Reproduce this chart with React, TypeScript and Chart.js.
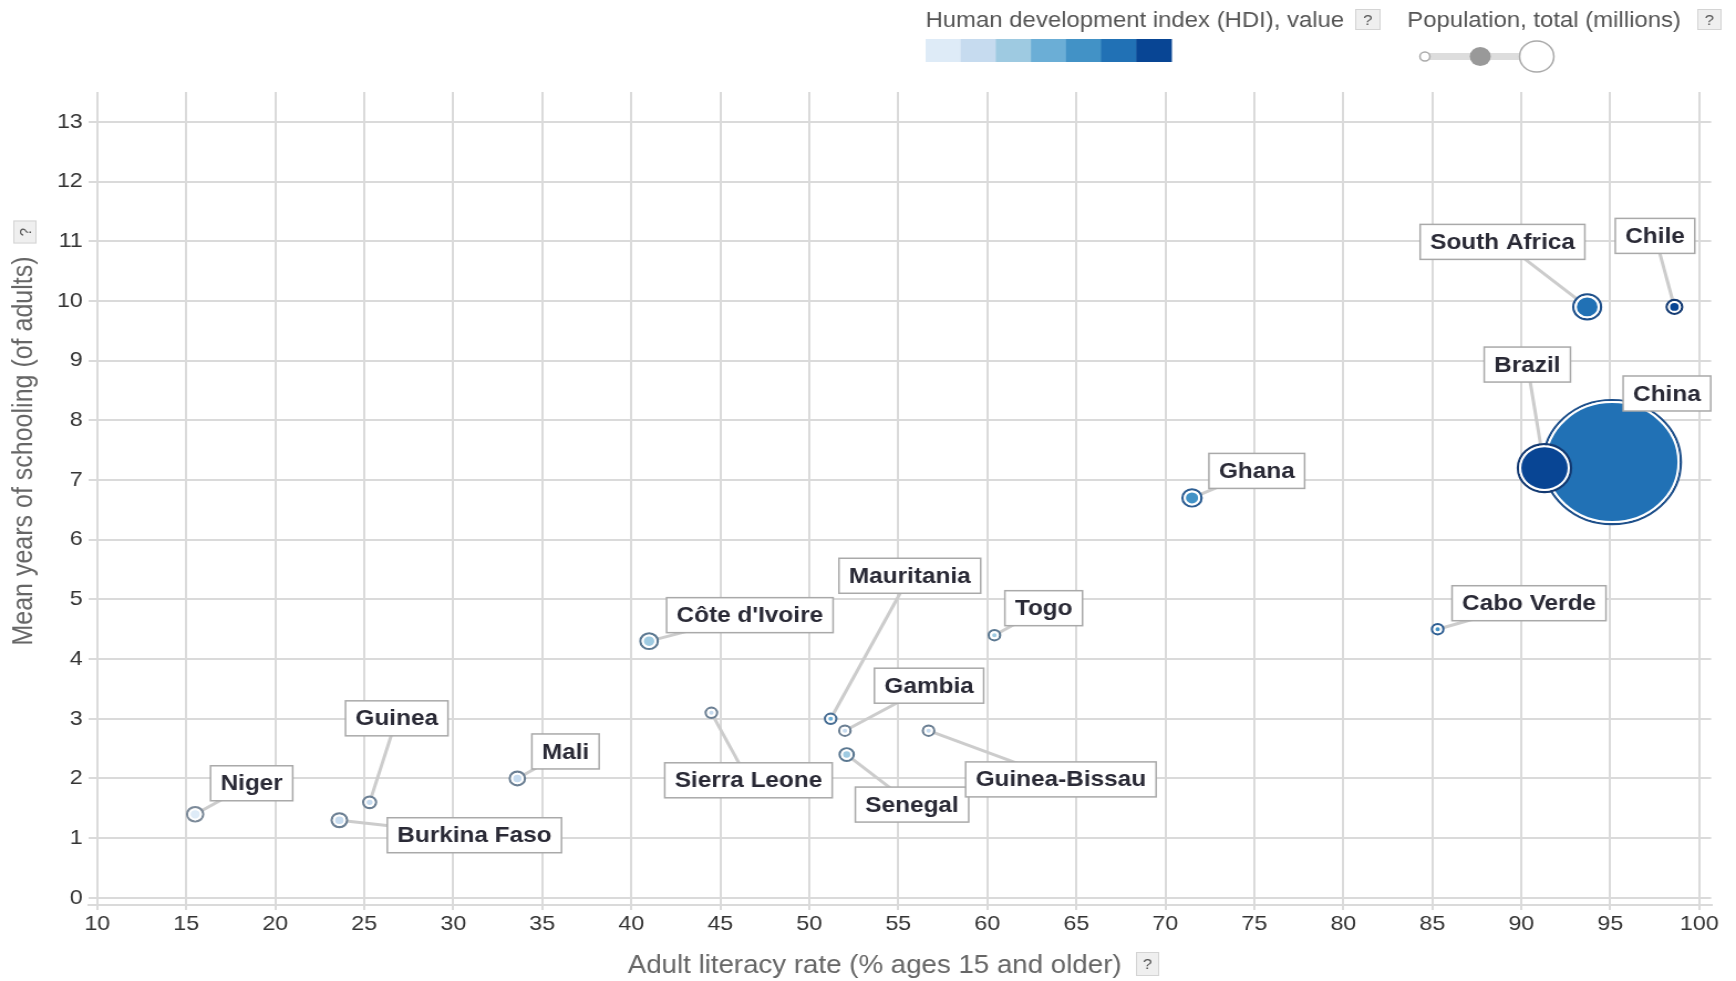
import React, { useEffect, useRef } from 'react';
import { Chart, registerables, BubbleController, PointElement } from 'chart.js';

// ---------- data ----------
const countries = [
  'Niger', 'Burkina Faso', 'Guinea', 'Mali', "Côte d'Ivoire", 'Sierra Leone', 'Mauritania',
  'Gambia', 'Senegal', 'Guinea-Bissau', 'Togo', 'Ghana', 'Cabo Verde', 'South Africa', 'Chile',
  'China', 'Brazil',
];
const literacyRate = [15.5, 23.6, 25.3, 33.6, 41.0, 44.5, 51.2, 52.0, 52.1, 56.7, 60.4, 71.5, 85.3, 93.7, 98.6, 95.1, 91.3];
const meanSchooling = [1.4, 1.3, 1.6, 2.0, 4.3, 3.1, 3.0, 2.8, 2.4, 2.8, 4.4, 6.7, 4.5, 9.9, 9.9, 7.3, 7.2];
const hdiValue = [0.348, 0.402, 0.411, 0.419, 0.462, 0.413, 0.506, 0.441, 0.466, 0.420, 0.484, 0.579, 0.646, 0.666, 0.832, 0.727, 0.755];
const populationMillions = [19.1, 17.6, 12.3, 17.1, 22.2, 6.3, 4.0, 1.9, 14.7, 1.8, 7.1, 26.8, 0.5, 56.0, 17.8, 1369.4, 206.1];

const xTickValues = [10, 15, 20, 25, 30, 35, 40, 45, 50, 55, 60, 65, 70, 75, 80, 85, 90, 95, 100];
const yTickValues = [0, 1, 2, 3, 4, 5, 6, 7, 8, 9, 10, 11, 12, 13];

const xTitle = 'Adult literacy rate (% ages 15 and older)';
const yTitle = 'Mean years of schooling (of adults)';
const hdiLegendTitle = 'Human development index (HDI), value';
const popLegendTitle = 'Population, total (millions)';

// ---------- styles / layout ----------
const hdiThresholds = [0.40, 0.45, 0.50, 0.55, 0.65, 0.75];
const hdiPalette = ['#deebf7', '#c6dbef', '#9ecae1', '#6baed6', '#4292c6', '#2171b5', '#084594'];
const ringPalette = ['#7c8a99', '#6b7f93', '#5b7891', '#476d93', '#2c5d92', '#1d4f8a', '#133a72'];
// label box centre offsets from the bubble centre (px)
const labelOffsets: [number, number][] = [
  [51, -31], [122, 15], [24.5, -84], [43.5, -27], [91, -26], [33.5, 67.5], [71.5, -143],
  [76, -45], [59, 50], [119.5, 48.7], [44.5, -27], [58.5, -27], [82.5, -26], [-76.5, -65],
  [-17.5, -71], [49.5, -68.6], [-15.5, -103.5],
];

const FONT = '"Liberation Sans", Arial, Helvetica, sans-serif';
const GRID = '#dadada';

const hdiBin = (v: number) => {
  let b = 0;
  hdiThresholds.forEach((t) => { if (v >= t) b++; });
  return b;
};
const outerRadius = (p: number) => Math.max(6.2, 1.68 * Math.sqrt(p) + 1);

// ---------- custom element: bubble with white ring and dark outer ring ----------
class RingPoint extends PointElement {
  static id = 'ringPoint';
  static defaults = { ...(PointElement as any).defaults, outerColor: 'rgba(0,0,0,0)', outerWidth: 0 };
  static defaultRoutes = (PointElement as any).defaultRoutes;
  draw(ctx: CanvasRenderingContext2D, area: any) {
    const o: any = (this as any).options;
    if (!(this as any).skip && o.radius > 0 && o.outerWidth > 0) {
      ctx.save();
      ctx.beginPath();
      ctx.arc((this as any).x, (this as any).y, o.radius + o.borderWidth / 2 + o.outerWidth / 2, 0, Math.PI * 2);
      ctx.lineWidth = o.outerWidth;
      ctx.strokeStyle = o.outerColor;
      ctx.stroke();
      ctx.restore();
    }
    super.draw(ctx, area);
  }
}

class RingBubbleController extends BubbleController {
  static id = 'ringBubble';
  static defaults = { ...(BubbleController as any).defaults, dataElementType: 'ringPoint' };
  static overrides = (BubbleController as any).overrides;
}

Chart.register(...registerables, RingPoint as any, RingBubbleController as any);

function qBox(ctx: CanvasRenderingContext2D, cx: number, cy: number, w: number, h: number, rot = 0) {
  ctx.save();
  ctx.translate(cx, cy);
  ctx.rotate(rot);
  ctx.fillStyle = '#efefef';
  ctx.strokeStyle = '#d4d4d4';
  ctx.lineWidth = 1;
  ctx.fillRect(-w / 2, -h / 2, w, h);
  ctx.strokeRect(-w / 2 + 0.5, -h / 2 + 0.5, w - 1, h - 1);
  ctx.fillStyle = '#555';
  ctx.font = `15px ${FONT}`;
  ctx.textAlign = 'center';
  ctx.textBaseline = 'middle';
  ctx.fillText('?', 0, 1);
  ctx.restore();
}

const decorPlugin = {
  id: 'decor',
  beforeDatasetsDraw(chart: any) {
    const ctx: CanvasRenderingContext2D = chart.ctx;
    const xs = chart.scales.x, ys = chart.scales.y;
    ctx.save();
    ctx.strokeStyle = '#cccccc';
    ctx.lineWidth = 3;
    countries.forEach((_, i) => {
      const px = xs.getPixelForValue(literacyRate[i]);
      const py = ys.getPixelForValue(meanSchooling[i]);
      const [dx, dy] = labelOffsets[i];
      ctx.beginPath();
      ctx.moveTo(px, py);
      ctx.lineTo(px + dx, py + dy);
      ctx.stroke();
    });
    ctx.restore();
  },
  afterDatasetsDraw(chart: any) {
    const ctx: CanvasRenderingContext2D = chart.ctx;
    const xs = chart.scales.x, ys = chart.scales.y;
    ctx.save();
    ctx.font = `bold 22px ${FONT}`;
    ctx.textAlign = 'center';
    ctx.textBaseline = 'middle';
    countries.forEach((name, i) => {
      const px = xs.getPixelForValue(literacyRate[i]);
      const py = ys.getPixelForValue(meanSchooling[i]);
      const [dx, dy] = labelOffsets[i];
      const cx = px + dx, cy = py + dy;
      const w = ctx.measureText(name).width + 18;
      const h = 35;
      ctx.fillStyle = '#ffffff';
      ctx.fillRect(cx - w / 2, cy - h / 2, w, h);
      ctx.strokeStyle = '#a9a9a9';
      ctx.lineWidth = 1.5;
      ctx.strokeRect(cx - w / 2, cy - h / 2, w, h);
      ctx.fillStyle = '#2a2a36';
      ctx.fillText(name, cx, cy + 1);
    });
    ctx.restore();
  },
  afterDraw(chart: any) {
    const ctx: CanvasRenderingContext2D = chart.ctx;
    ctx.save();
    // axis titles
    ctx.fillStyle = '#666';
    ctx.font = `25px ${FONT}`;
    ctx.textAlign = 'center';
    ctx.textBaseline = 'middle';
    ctx.fillText(xTitle, 790, 966);
    qBox(ctx, 1036.5, 964, 21, 24);
    ctx.save();
    ctx.translate(22, 451);
    ctx.rotate(-Math.PI / 2);
    ctx.fillText(yTitle, 0, 0);
    ctx.restore();
    qBox(ctx, 22.5, 232, 23, 21, -Math.PI / 2);

    // HDI legend
    ctx.fillStyle = '#555';
    ctx.font = `21.6px ${FONT}`;
    ctx.textAlign = 'left';
    ctx.fillText(hdiLegendTitle, 836, 21);
    qBox(ctx, 1235.5, 19.5, 23, 21);
    const cw = 222 / hdiPalette.length;
    hdiPalette.forEach((c, i) => {
      ctx.fillStyle = c;
      ctx.fillRect(836 + i * cw, 39, cw + 0.5, 23);
    });

    // population legend
    ctx.fillStyle = '#555';
    ctx.fillText(popLegendTitle, 1271, 21);
    qBox(ctx, 1544, 19.5, 22, 21);
    const sy = 56.5;
    ctx.fillStyle = '#dddddd';
    ctx.fillRect(1287, sy - 3.5, 101, 7);
    ctx.lineWidth = 1.5;
    ctx.strokeStyle = '#aaaaaa';
    ctx.fillStyle = '#ffffff';
    ctx.beginPath(); ctx.arc(1287, sy, 4.5, 0, Math.PI * 2); ctx.fill(); ctx.stroke();
    ctx.fillStyle = '#999999';
    ctx.beginPath(); ctx.arc(1337, sy, 9.5, 0, Math.PI * 2); ctx.fill();
    ctx.fillStyle = '#ffffff';
    ctx.beginPath(); ctx.arc(1388, sy, 15.5, 0, Math.PI * 2); ctx.fill(); ctx.stroke();
    ctx.restore();
  },
};

export default function App() {
  const ref = useRef<HTMLCanvasElement>(null);
  useEffect(() => {
    const canvas = ref.current;
    if (!canvas) return;
    const points = countries.map((_, i) => ({
      x: literacyRate[i],
      y: meanSchooling[i],
      r: outerRadius(populationMillions[i]) - 3.2,
    }));
    const chart = new Chart(canvas, {
      type: 'ringBubble' as any,
      data: {
        datasets: [
          {
            label: 'Countries',
            data: points,
            backgroundColor: (c: any) => hdiPalette[hdiBin(hdiValue[c.dataIndex])],
            borderColor: '#ffffff',
            borderWidth: 2,
            outerColor: (c: any) => ringPalette[hdiBin(hdiValue[c.dataIndex])],
            outerWidth: 2.2,
          } as any,
        ],
      },
      options: {
        responsive: false,
        animation: false,
        devicePixelRatio: 1,
        events: [],
        layout: { autoPadding: false, padding: { top: 92, right: 22.5, left: 0, bottom: 0 } },
        plugins: { legend: { display: false }, tooltip: { enabled: false } },
        scales: {
          x: {
            type: 'linear',
            min: 9.5,
            max: 100.66,
            afterBuildTicks: (s: any) => { s.ticks = xTickValues.map((v) => ({ value: v })); },
            afterFit: (s: any) => { s.height = 76; s.paddingLeft = 0; s.paddingRight = 0; },
            grid: { color: GRID, lineWidth: 2, drawTicks: true, tickLength: 5, tickColor: GRID },
            border: { display: true, color: GRID, width: 2 },
            ticks: { color: '#333', font: { family: FONT, size: 21 }, padding: 2, maxRotation: 0, autoSkip: false },
          },
          y: {
            type: 'linear',
            min: -0.12,
            max: 13.5,
            afterBuildTicks: (s: any) => { s.ticks = yTickValues.map((v) => ({ value: v })); },
            afterFit: (s: any) => { s.width = 79.8; s.paddingTop = 0; s.paddingBottom = 0; },
            grid: { color: GRID, lineWidth: 2, drawTicks: false },
            border: { display: false },
            ticks: { color: '#333', font: { family: FONT, size: 21 }, padding: 5, autoSkip: false },
          },
        },
      } as any,
      plugins: [decorPlugin],
    });
    return () => chart.destroy();
  }, []);
  return (
    <div style={{ position: 'fixed', left: 0, top: 0, width: 1736, height: 981, background: '#ffffff' }}>
      <canvas ref={ref} width={1568} height={981} style={{ display: 'block', width: '1736px', height: '981px' }} />
    </div>
  );
}
